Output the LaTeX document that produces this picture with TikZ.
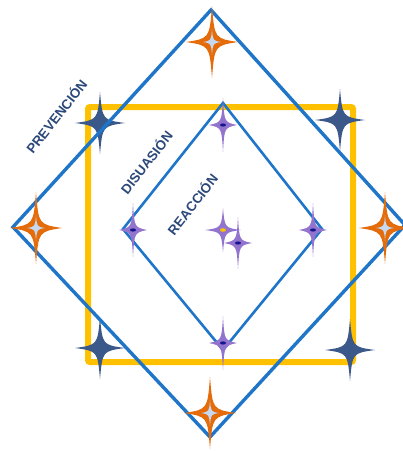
\documentclass[tikz,border=0pt]{standalone}
\usepackage{fontspec}
\setmainfont{Liberation Sans}
\usepackage{xcolor}
\usepackage{tikz}
\usetikzlibrary{calc}
\definecolor{edgeblue}{RGB}{31,117,200}
\definecolor{ringyellow}{RGB}{255,192,0}
\definecolor{starorange}{RGB}{228,108,10}
\definecolor{starcore}{RGB}{198,217,241}
\definecolor{starnavy}{RGB}{58,88,138}
\definecolor{starpurple}{RGB}{146,116,206}
\definecolor{dotnavy}{RGB}{20,20,140}
\definecolor{labelnavy}{RGB}{44,72,122}

% four-pointed sparkle: centre, half width, half height, fill
\newcommand{\sparkle}[4]{%
 \fill[#4,shift={(#1)},xscale=#2,yscale=#3] (0,1) .. controls (0.1,0.1) .. (1,0)
 .. controls (0.1,-0.1) .. (0,-1) .. controls (-0.1,-0.1) .. (-1,0)
 .. controls (-0.1,0.1) .. cycle;}

\begin{document}
\begin{tikzpicture}[
 x=1pt,y=-1pt,
 outerline/.style={draw=edgeblue,line width=3.4pt,line join=miter},
 innerline/.style={draw=edgeblue,line width=2.6pt,line join=miter},
 ring/.style={draw=ringyellow,line width=6pt,rounded corners=2pt},
 tag/.style={text=labelnavy,font=\fontsize{13.5}{15}\selectfont\bfseries,inner sep=0pt}
]
\useasboundingbox (0,0) rectangle (403,451);
\coordinate (otop) at (211,10);
\coordinate (oright) at (405,225);
\coordinate (obottom) at (210,437);
\coordinate (oleft) at (13,227);
\coordinate (itop) at (223,103);
\coordinate (iright) at (322,229);
\coordinate (ibottom) at (223,350);
\coordinate (ileft) at (123,229);

% square
\draw[ring] (88,107) rectangle (353,362);

% dark stars on the square
\sparkle{100,123}{25}{31}{starnavy}
\sparkle{340,120}{25}{31}{starnavy}
\sparkle{100,348}{25}{31}{starnavy}
\sparkle{350,350}{25}{31}{starnavy}

% diamonds
\draw[outerline] (otop) -- (oright) -- (obottom) -- (oleft) -- cycle;
\draw[innerline] (itop) -- (iright) -- (ibottom) -- (ileft) -- cycle;

% orange stars
\foreach \p in {{212,42},{36,228},{385,228},{210,413}}{
 \sparkle{\p}{26}{36}{starorange}
 \sparkle{\p}{9}{13}{starcore}
}

% purple stars
\foreach \p in {{223,125},{133,230},{313,230},{223,343}}{
 \sparkle{\p}{14}{27}{starpurple}
 \fill[dotnavy] (\p) ellipse (3 and 1.6);
}
\sparkle{223,230}{18}{22}{starpurple}
\fill[ringyellow] (223,230) ellipse (3 and 1.8);
\sparkle{238,243}{14}{26}{starpurple}
\fill[dotnavy] (238,243) ellipse (3 and 1.6);

% labels
\node[tag,rotate=52] (prev) at (56,116) {PREVENCIÓN};
\node[tag,rotate=52] (disu) at (146,162) {DISUASIÓN};
\node[tag,rotate=52] (reac) at (192,204) {REACCIÓN};
\end{tikzpicture}
\end{document}
